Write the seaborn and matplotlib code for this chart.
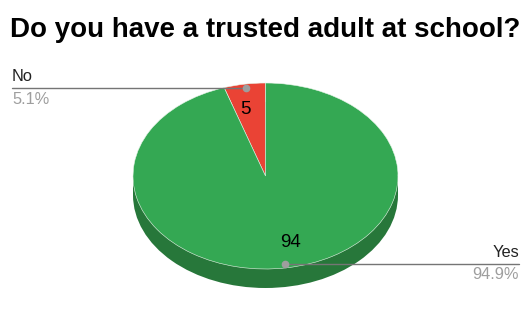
import numpy as np
import matplotlib
matplotlib.use("Agg")
import matplotlib.pyplot as plt
import seaborn as sns
from matplotlib.patches import Rectangle, Ellipse

categories = ["No", "Yes"]
values = [5, 94]
percent_labels = ["5.1%", "94.9%"]
title = "Do you have a trusted adult at school?"

colors_top = ["#ea4335", "#34a853"]
side_color = "#27773a"

sns.set_style("white")
plt.rcParams["font.family"] = ["Liberation Sans", "DejaVu Sans"]

W, H = 531, 328
fig = plt.figure(figsize=(W / 100, H / 100), dpi=100)
ax = fig.add_axes([0, 0, 1, 1])

# pixel geometry of the pie
cx, cy, rx, ry, depth_px = 265.5, 176.0, 132.5, 93.0, 19.0
d = depth_px / ry

# side of the 3D pie
ax.add_patch(Ellipse((0, -d), 2, 2, facecolor=side_color, edgecolor="none", zorder=1))
ax.add_patch(Rectangle((-1, -d), 2, d, facecolor=side_color, edgecolor="none", zorder=1))

wedges, texts = ax.pie(values, colors=colors_top, startangle=90, counterclock=True,
                       labels=[str(v) for v in values], labeldistance=0.72,
                       wedgeprops=dict(edgecolor="#e8f5e9", linewidth=0.4, zorder=2),
                       textprops=dict(fontsize=13.5, color="#000000", zorder=3),
                       frame=True)
ax.set_xlim(-cx / rx, (W - cx) / rx)
ax.set_ylim(-(H - cy) / ry, cy / ry)
ax.set_aspect("auto")
ax.axis("off")

total = sum(values)
start = 90.0
xl, xr = -(cx - 12) / rx, (519 - cx) / rx
for i, (cat, v, p) in enumerate(zip(categories, values, percent_labels)):
    ang = start + 360.0 * v / total / 2
    start += 360.0 * v / total
    a = np.deg2rad(ang)
    px, py = 0.955 * np.cos(a), 0.955 * np.sin(a)
    ax.plot([px], [py], "o", color="#9e9e9e", ms=4.5, zorder=5)
    if px < 0:
        xe, ha = xl, "left"
    else:
        xe, ha = xr, "right"
    ax.plot([px, xe], [py, py], color="#757575", lw=1.0, zorder=4)
    ax.text(xe, py + 0.045, cat, ha=ha, va="bottom", fontsize=11.8, color="#222222")
    ax.text(xe, py - 0.04, p, ha=ha, va="top", fontsize=11.8, color="#9e9e9e")

fig.text(10 / W, 1 - 30 / H, title, ha="left", va="center", fontsize=20,
         fontweight="bold", color="#000000")

fig.savefig("out.png", dpi=100, facecolor="white")
